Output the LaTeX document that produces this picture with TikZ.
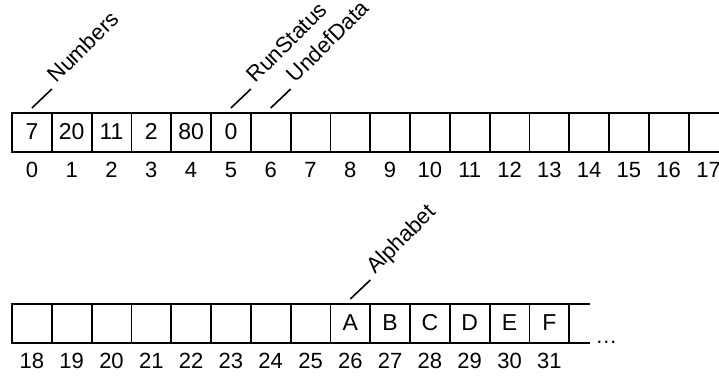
\documentclass[tikz,border=0pt]{standalone}
\usepackage{fontspec}
\setmainfont{Liberation Sans}
\usetikzlibrary{calc}

\begin{document}
\begin{tikzpicture}[x=1pt,y=1pt,
    every node/.style={font=\fontsize{22}{26}\selectfont},
    celda/.style={draw, line width=1.8pt, minimum width=\ancho pt, minimum height=\alto pt,
                  inner sep=0pt, outer sep=0pt, text depth=0.15em, font=\fontsize{23}{27}\selectfont},
    indice/.style={inner sep=0pt},
    etiqueta/.style={rotate=45, anchor=base west, inner xsep=7pt, inner ysep=0pt},
    guia/.style={line width=1.6pt}]
            % Parámetros: ancho y alto de celda, borde izquierdo
            \def\ancho{39.8}
            \def\alto{39}
            \def\xini{12}

            % Marco de la imagen
            \clip (0,0) rectangle (719,375);

            % Primera fila de memoria: celdas 0 a 17
            \foreach \i/\v in {0/7,1/20,2/11,3/2,4/80,5/0,6/{},7/{},8/{},9/{},10/{},11/{},12/{},13/{},14/{},15/{},16/{},17/{}}
              \node[celda] (c\i) at ({\xini+(\i+0.5)*\ancho},242.5) {\v};

            % Segunda fila de memoria: celdas 18 a 31
            \foreach \i/\v in {18/{},19/{},20/{},21/{},22/{},23/{},24/{},25/{},26/A,27/B,28/C,29/D,30/E,31/F}
              \node[celda] (c\i) at ({\xini+(\i-17.5)*\ancho},51.5) {\v};

            % Direcciones bajo cada celda
            \foreach \i in {0,...,31}
              \node[indice] (i\i) at ([yshift=-18pt]c\i.south) {\i};

            % Celda abierta al final y puntos suspensivos
            \draw[guia] (c31.north east) -- ++(21,0) coordinate (finsup);
            \draw[guia] (c31.south east) -- ++(21,0) coordinate (fininf);
            \node[inner sep=0pt, anchor=base west] (mas) at ($(c31.south east)+(26,0)$) {\dots};

            % Nombres de las variables con su guía
            \node[etiqueta] (numbers) at ($(c0.north)+(20,24)$) {Numbers};
            \draw[guia] ([yshift=5pt]c0.north) -- (numbers.base west);

            \node[etiqueta] (runstatus) at ($(c5.north)+(20,24)$) {RunStatus};
            \draw[guia] ([yshift=5pt]c5.north) -- (runstatus.base west);

            \node[etiqueta] (undefdata) at ($(c6.north)+(20,24)$) {UndefData};
            \draw[guia] ([yshift=5pt]c6.north) -- (undefdata.base west);

            \node[etiqueta] (alphabet) at ($(c26.north)+(20,24)$) {Alphabet};
            \draw[guia] ([yshift=5pt]c26.north) -- (alphabet.base west);
\end{tikzpicture}
\end{document}
